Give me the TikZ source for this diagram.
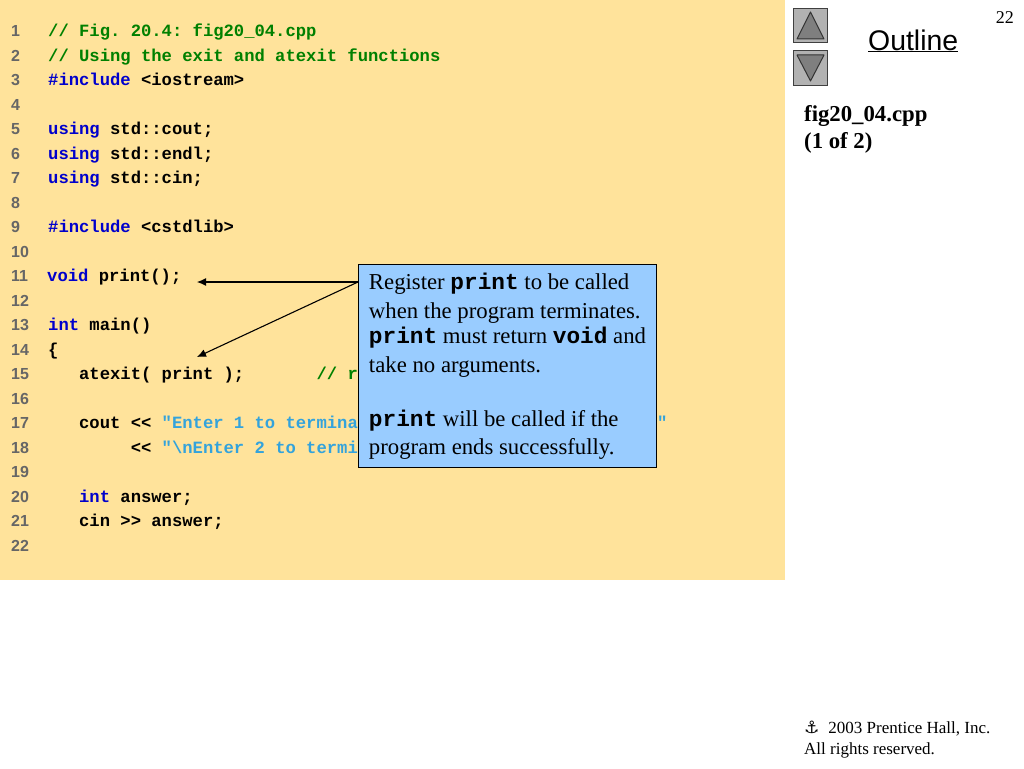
\documentclass[tikz,border=0pt]{standalone}
\usepackage{fontspec}
\setmainfont{Liberation Serif}
\setsansfont{Liberation Sans}
\setmonofont{Liberation Mono}
\newfontfamily\symfont{DejaVu Sans}
\usetikzlibrary{arrows.meta}
\definecolor{panelbg}{HTML}{FFE39B}
\definecolor{notebg}{HTML}{99CCFF}
\definecolor{cmtgreen}{HTML}{008000}
\definecolor{kwblue}{HTML}{0000CC}
\definecolor{strblue}{HTML}{33A3DC}
\definecolor{numgray}{HTML}{666666}
\definecolor{btnfill}{HTML}{B2B2B2}
\definecolor{btnmark}{HTML}{7F7F7F}
\newcommand{\codecmt}[1]{\textcolor{cmtgreen}{#1}}
\newcommand{\codekw}[1]{\textcolor{kwblue}{#1}}
\newcommand{\codestr}[1]{\textcolor{strblue}{#1}}
\newcommand{\notecode}[1]{{\ttfamily\bfseries #1}}
\tikzset{
  lineno/.style={anchor=base west, inner sep=0pt, text=numgray,
    font=\fontsize{16}{16}\sffamily\bfseries},
  codeline/.style={anchor=base west, inner sep=0pt,
    font=\fontsize{17.2}{17.2}\ttfamily\bfseries},
  notebox/.style={draw=black, line width=1pt, fill=notebg, anchor=north west,
    minimum width=298pt, minimum height=203pt, inner xsep=10pt, inner ysep=0pt,
    align=left, font=\fontsize{22.75}{29}\selectfont},
  navbtn/.style={draw=black!75, line width=1pt, fill=btnfill, inner sep=0pt,
    minimum width=34pt, minimum height=34pt},
  navmark/.style={draw=black!80, line width=1pt, fill=btnmark, line join=round},
  pointer/.style={-{Latex[length=9pt,width=8pt]}, line width=1.1pt},
  sidetext/.style={anchor=base west, inner sep=0pt, align=left}
}
\begin{document}
\begin{tikzpicture}[x=1pt, y=-1pt]
  \useasboundingbox (0,0) rectangle (1024,768);
  \fill [panelbg] (0,0) rectangle (785,580);

  % line numbers
  \foreach \n in {1,...,22}
    \node [lineno] (num\n) at (11,36.5+24.52*\n-24.52) {\n};

  % code
  \foreach \n/\txt in {
    1/{\codecmt{// Fig. 20.4: fig20\_04.cpp}},
    2/{\codecmt{// Using the exit and atexit functions}},
    3/{\codekw{\#include} <iostream>},
    5/{\codekw{using} std::cout;},
    6/{\codekw{using} std::endl;},
    7/{\codekw{using} std::cin;},
    9/{\codekw{\#include} <cstdlib>},
    13/{\codekw{int} main()},
    14/{\{},
    15/{~~~atexit(~print~);~~~~~~~\codecmt{//~r}},
    17/{~~~cout~<<~\codestr{"Enter~1~to~termina~~~~~~~~~~~~~~~~~~~~~~~~~~~~~"}},
    18/{~~~~~~~~<<~\codestr{"\textbackslash nEnter~2~to~termi}},
    20/{~~~\codekw{int} answer;},
    21/{~~~cin~>>~answer;}}
    \node [codeline] (line\n) at (48,36.5+24.52*\n-24.52) {\txt};
  \node [codeline] (line11) at (47,281.7) {\codekw{void} print();};

  % callout
  \node [notebox] (note) at (358,264) {%
    Register \notecode{print} to be called\\[0pt]
    when the program terminates.\\[-4pt]
    \notecode{print} must return \notecode{void} and\\[0pt]
    take no arguments.\\[25pt]
    \notecode{print} will be called if the\\[-1.5pt]
    program ends successfully.};
  \coordinate (notefrom) at (358,282);
  \coordinate (voidtip) at (197,282);
  \coordinate (atexittip) at (197,357);
  \draw [pointer] (notefrom) -- (voidtip);
  \draw [pointer] (notefrom) -- (atexittip);

  % side column
  \node [navbtn] (btnup) at (810.5,25.5) {};
  \node [navbtn] (btndown) at (810.5,68) {};
  \draw [navmark] ([yshift=13.5pt]btnup.center) -- ++(13.5,27) -- ++(-27,0) -- cycle;
  \draw [navmark] ([yshift=13pt]btndown.center) -- ++(13.5,0) -- ++(-13.5,26) -- ++(-13.5,-26) -- cycle;
  \node [sidetext, font=\fontsize{28.4}{30}\sffamily] (outline) at (868,50) {\underline{Outline}};
  \node [sidetext, anchor=base east, font=\fontsize{18}{20}\selectfont] (pagenum) at (1014,24) {22};
  \node [sidetext, font=\fontsize{22.75}{27}\selectfont\bfseries] (filename) at (804,148) {fig20\_04.cpp\\(1 of 2)};
  \node [sidetext, font=\fontsize{17}{21}\selectfont] (credit) at (804,754) {{\symfont\bfseries\fontsize{17}{17}\selectfont ⚓}\hspace{9pt}2003 Prentice Hall, Inc.\\All rights reserved.};
\end{tikzpicture}
\end{document}
